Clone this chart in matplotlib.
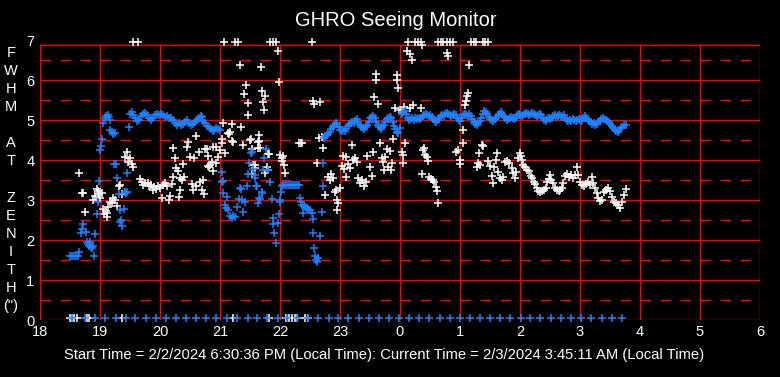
import matplotlib
matplotlib.use("Agg")
import matplotlib.pyplot as plt
import numpy as np

plt.rcParams['font.family'] = ['Liberation Sans', 'DejaVu Sans']

# ---------------- data (hours since midnight of start day; 24+ = next day) ----------------
x_ticks = [18, 19, 20, 21, 22, 23, 24, 25, 26, 27, 28, 29, 30]
x_tick_labels = ["18", "19", "20", "21", "22", "23", "0", "1", "2", "3", "4", "5", "6"]
y_ticks = [0, 1, 2, 3, 4, 5, 6, 7]

# white series: values of 7 are off-scale (top row), 0 are bottom row
white_x = [
    19.55, 19.63, 21.07, 21.25, 21.30, 21.83, 21.88, 21.93, 22.53,
    24.13, 24.25, 24.30, 24.35, 24.63, 24.68, 24.72, 24.78, 24.83, 24.88,
    25.18, 25.23, 25.27, 25.38, 25.42, 25.46,
    18.50, 18.53, 18.57, 18.62, 18.78, 18.82, 19.37, 21.22, 21.82,
    22.10, 22.15, 22.20, 22.25, 22.28, 22.42, 22.47,
    24.12, 24.17, 24.20, 24.78, 24.80, 25.15, 21.97, 21.33, 21.68, 24.37,
    18.65, 18.70, 18.72, 18.75, 18.88, 18.92, 18.95, 18.97, 18.98, 19.00,
    19.03, 19.05, 19.07, 19.10, 19.12, 19.12, 19.13, 19.17, 19.20, 19.22,
    19.25, 19.28, 19.32, 19.33, 19.37, 19.42, 19.45, 19.47, 19.50, 19.53,
    19.55, 19.67, 19.70, 19.72, 19.75, 19.80, 19.82, 19.85, 19.88, 19.90,
    19.93, 19.97, 20.00, 20.03, 20.05, 20.08, 20.12, 20.15, 20.17, 20.20,
    20.22, 20.22, 20.25, 20.27, 20.30, 20.33, 20.37, 20.40, 20.33, 20.32,
    20.38, 20.45, 20.47, 20.50, 20.53, 20.55, 20.57, 20.60, 20.60, 20.65,
    20.67, 20.70, 20.72, 20.73, 20.75, 20.78, 20.80, 20.80, 20.82, 20.83,
    20.88, 20.88, 20.87, 20.93, 20.93, 20.97, 21.00, 21.03, 21.03, 21.05,
    21.08, 21.13, 21.15, 21.17, 21.20, 21.20, 21.22, 21.35, 21.38, 21.40,
    21.43, 21.47, 21.47, 21.50, 21.52, 21.53, 21.55, 21.53, 21.58, 21.58,
    21.63, 21.63, 21.65, 21.67, 21.65, 21.70, 21.72, 21.73, 21.75, 21.75,
    21.78, 21.80, 21.82, 21.80, 21.98, 22.00, 22.03, 22.05, 22.03, 22.07,
    22.08, 22.32, 22.35, 22.37, 22.55, 22.57, 22.67, 22.62, 22.65, 22.70,
    22.72, 22.75, 22.80, 22.83, 22.85, 22.88, 22.92, 22.93, 22.95, 22.97,
    22.95, 23.00, 23.03, 23.05, 23.07, 23.10, 23.10, 23.13, 23.17, 23.20,
    23.22, 23.25, 23.28, 23.30, 23.33, 23.37, 23.40, 23.43, 23.45, 23.50,
    23.53, 23.55, 23.57, 23.60, 23.60, 23.63, 23.67, 23.70, 23.72, 23.73,
    23.75, 23.78, 23.80, 23.83, 23.85, 23.87, 23.88, 23.92, 23.95, 23.95,
    23.97, 24.00, 24.03, 24.03, 24.05, 24.05, 24.07, 24.08, 24.17, 24.22,
    24.35, 24.37, 24.38, 24.40, 24.42, 24.45, 24.47, 24.48, 24.52, 24.55,
    24.57, 24.60, 24.62, 24.63, 24.93, 24.97, 25.00, 25.00, 25.05, 25.05,
    25.08, 25.10, 25.12, 25.13, 25.28, 25.30, 25.32, 25.33, 25.37, 25.38,
    25.47, 25.50, 25.53, 25.55, 25.57, 25.60, 25.62, 25.63, 25.67, 25.70,
    25.72, 25.75, 25.78, 25.82, 25.87, 25.88, 25.92, 25.93, 25.97, 26.00,
    26.02, 26.03, 26.05, 26.08, 26.12, 26.15, 26.18, 26.20, 26.23, 26.25,
    26.28, 26.30, 26.33, 26.37, 26.40, 26.43, 26.45, 26.48, 26.50, 26.52,
    26.55, 26.58, 26.62, 26.65, 26.67, 26.70, 26.72, 26.75, 26.78, 26.82,
    26.85, 26.88, 26.92, 26.95, 26.97, 27.00, 27.03, 27.07, 27.10, 27.13,
    27.17, 27.20, 27.22, 27.25, 27.28, 27.30, 27.33, 27.37, 27.40, 27.43,
    27.47, 27.50, 27.53, 27.57, 27.60, 27.63, 27.67, 27.70, 27.73, 27.77,
]
white_y = [
    7, 7, 7, 7, 7, 7, 7, 7, 7,
    7, 7, 7, 7, 7, 7, 7, 7, 7, 7,
    7, 7, 7, 7, 7, 7,
    0, 0, 0, 0, 0, 0, 0, 0, 0,
    0, 0, 0, 0, 0, 0, 0,
    6.72, 6.65, 6.50, 6.67, 6.60, 6.37, 6.72, 6.37, 6.32, 6.87,
    3.68, 3.17, 3.17, 2.70, 3.00, 3.10, 3.27, 3.22, 3.15, 3.05,
    3.17, 2.77, 2.65, 2.72, 2.57, 2.68, 2.83, 2.95, 2.92, 3.05,
    3.00, 2.85, 3.35, 3.38, 3.15, 4.08, 4.20, 3.95, 4.05, 3.90,
    3.83, 3.52, 3.45, 3.37, 3.42, 3.43, 3.35, 3.37, 3.25, 3.32,
    3.28, 3.35, 3.30, 3.05, 3.38, 3.42, 3.35, 3.00, 3.10, 3.40,
    3.57, 4.30, 4.05, 3.80, 3.72, 3.55, 3.50, 3.58, 3.25, 3.07,
    3.90, 4.33, 4.45, 4.08, 3.40, 3.25, 4.05, 3.35, 4.60, 4.20,
    3.45, 3.25, 3.50, 3.15, 4.27, 4.27, 4.10, 3.85, 3.83, 3.88,
    3.72, 4.33, 3.95, 4.33, 3.92, 4.08, 4.25, 4.42, 4.52, 4.92,
    4.17, 4.67, 4.65, 4.70, 4.90, 4.48, 4.45, 4.82, 4.37, 5.65,
    5.87, 5.42, 5.12, 4.50, 4.52, 4.27, 3.88, 3.65, 3.80, 3.87,
    4.45, 4.30, 4.62, 4.30, 4.47, 5.73, 5.45, 5.25, 5.60, 3.67,
    3.83, 3.75, 4.15, 4.15, 5.95, 4.12, 4.05, 4.10, 3.98, 3.87,
    3.67, 4.42, 4.42, 4.42, 5.47, 5.40, 5.45, 3.92, 4.55, 4.57,
    4.30, 3.12, 3.58, 3.50, 3.65, 3.55, 3.20, 3.25, 3.00, 2.92,
    2.75, 3.30, 3.85, 4.10, 3.78, 4.07, 3.58, 3.90, 3.80, 4.37,
    4.00, 4.05, 3.95, 3.55, 3.42, 3.50, 3.35, 3.45, 4.10, 3.83,
    3.60, 4.20, 5.58, 6.00, 6.15, 5.40, 4.43, 4.05, 3.95, 3.75,
    4.08, 4.27, 3.83, 4.22, 3.75, 3.92, 4.52, 5.30, 6.00, 6.12,
    5.80, 5.25, 5.20, 4.20, 4.12, 3.92, 5.33, 4.43, 5.30, 5.37,
    5.30, 3.65, 4.25, 4.30, 4.12, 4.07, 3.97, 3.58, 3.52, 3.50,
    3.45, 3.33, 3.22, 2.93, 4.20, 4.25, 4.00, 3.90, 4.42, 4.75,
    5.37, 5.47, 5.60, 5.67, 3.83, 3.92, 4.17, 3.88, 4.37, 4.35,
    3.97, 3.85, 3.60, 3.43, 3.82, 4.00, 4.17, 3.70, 3.55, 3.50,
    3.58, 3.95, 3.98, 3.93, 3.80, 3.67, 3.55, 3.70, 4.05, 4.17,
    4.10, 4.00, 3.88, 3.82, 3.75, 3.72, 3.60, 3.55, 3.45, 3.40,
    3.30, 3.22, 3.20, 3.22, 3.25, 3.30, 3.45, 3.52, 3.62, 3.50,
    3.42, 3.30, 3.25, 3.22, 3.25, 3.30, 3.43, 3.60, 3.65, 3.58,
    3.62, 3.55, 3.63, 3.83, 3.63, 3.45, 3.38, 3.35, 3.40, 3.45,
    3.38, 3.58, 3.43, 3.30, 3.17, 3.05, 2.98, 3.00, 3.20, 3.25,
    3.30, 3.22, 3.08, 2.95, 2.92, 2.88, 2.80, 2.95, 3.12, 3.27,
]

# blue series
blue_x = [
    # bottom row
    18.53, 18.75, 18.92, 19.09, 19.26, 19.43, 19.59, 19.76, 19.93, 20.10,
    20.27, 20.43, 20.60, 20.77, 20.94, 21.12, 21.29, 21.46, 21.62, 21.79,
    21.96, 22.12, 22.29, 22.47, 22.64, 22.81, 22.97, 23.14, 23.31, 23.48,
    23.65, 23.82, 23.99, 24.15, 24.32, 24.49, 24.66, 24.83, 25.00, 25.16,
    25.33, 25.50, 25.67, 25.84, 26.01, 26.17, 26.34, 26.51, 26.68, 26.85,
    27.02, 27.19, 27.36, 27.53, 27.70,
    # early rise
    18.50, 18.53, 18.57, 18.60, 18.63, 18.65, 18.68, 18.70, 18.72, 18.77,
    18.78, 18.80, 18.82, 18.83, 18.85, 18.87, 18.88, 18.90, 18.92, 18.95,
    18.97, 18.98, 19.00, 19.02, 19.03,
    # first band
    19.05, 19.08, 19.10, 19.13, 19.15, 19.17, 19.17, 19.20, 19.22, 19.25,
    19.23, 19.27, 19.28, 19.32, 19.33, 19.33, 19.35, 19.37, 19.40, 19.42,
    19.43, 19.45, 19.45, 19.48,
    19.50, 19.53, 19.55, 19.58, 19.62, 19.65, 19.68, 19.72, 19.75, 19.78,
    19.82, 19.85, 19.88, 19.92, 19.95, 19.98, 20.02, 20.05, 20.08, 20.12,
    20.15, 20.18, 20.22, 20.25, 20.28, 20.32, 20.35, 20.38, 20.42, 20.45,
    20.48, 20.52, 20.55, 20.58, 20.62, 20.65, 20.68, 20.70, 20.72, 20.75,
    20.78, 20.82, 20.85, 20.88, 20.90, 20.93, 20.97, 21.00,
    # scatter 21-22.7
    21.03, 21.03, 21.05, 21.05, 21.08, 21.10, 21.12, 21.13, 21.17, 21.20,
    21.22, 21.25, 21.28, 21.32, 21.33, 21.35, 21.37, 21.38, 21.42, 21.45,
    21.47, 21.48, 21.52, 21.53, 21.55, 21.58, 21.58, 21.60, 21.62, 21.63,
    21.65, 21.67, 21.70, 21.70, 21.72, 21.73, 21.77, 21.80, 21.83, 21.87,
    21.88, 21.88, 21.90, 21.93, 21.97, 21.98, 22.00, 22.00, 22.02, 22.03,
    22.05, 22.08, 22.12, 22.15, 22.18, 22.22, 22.25, 22.28, 22.32,
    22.33, 22.35, 22.37, 22.38, 22.40, 22.42, 22.45, 22.47, 22.50, 22.53,
    22.55, 22.55, 22.57, 22.58, 22.60, 22.62, 22.63, 22.67, 22.70, 22.72,
    22.72,
    # second band
    22.73, 22.75, 22.78, 22.80, 22.83, 22.85, 22.88, 22.90, 22.93, 22.95,
    22.98, 23.00, 23.03, 23.05, 23.08, 23.10, 23.13, 23.15, 23.18, 23.20,
    23.23, 23.25, 23.28, 23.30, 23.33, 23.35, 23.38, 23.40, 23.43, 23.45,
    23.48, 23.50, 23.53, 23.55, 23.58, 23.60, 23.63, 23.65, 23.68, 23.70,
    23.73, 23.75, 23.78, 23.80, 23.83, 23.85, 23.88, 23.90, 23.92, 23.95,
    23.97, 24.00, 24.03, 24.05, 24.08, 24.10, 24.13, 24.15, 24.18, 24.20,
    24.23, 24.25, 24.28, 24.30, 24.33, 24.35, 24.38, 24.40, 24.43, 24.45,
    24.48, 24.50, 24.53, 24.55, 24.58, 24.60, 24.63, 24.65, 24.68, 24.70,
    24.73, 24.75, 24.78, 24.80, 24.83, 24.85, 24.88, 24.90, 24.93, 24.95,
    24.98, 25.00, 25.03, 25.05, 25.08, 25.10, 25.13, 25.15, 25.18, 25.20,
    25.23, 25.25, 25.28, 25.30, 25.33, 25.35, 25.38, 25.40, 25.43, 25.45,
    25.48, 25.50, 25.53, 25.55, 25.58, 25.60, 25.63, 25.65, 25.68, 25.70,
    25.73, 25.75, 25.78, 25.80, 25.83, 25.85, 25.88, 25.90, 25.93, 25.95,
    25.98, 26.00, 26.03, 26.05, 26.08, 26.10, 26.13, 26.15, 26.18, 26.20,
    26.23, 26.25, 26.28, 26.30, 26.33, 26.35, 26.38, 26.40, 26.43, 26.45,
    26.48, 26.50, 26.53, 26.55, 26.58, 26.60, 26.63, 26.65, 26.68, 26.70,
    26.73, 26.75, 26.78, 26.80, 26.83, 26.85, 26.88, 26.90, 26.93, 26.95,
    26.98, 27.00, 27.03, 27.05, 27.08, 27.10, 27.13, 27.15, 27.18, 27.20,
    27.23, 27.25, 27.28, 27.30, 27.33, 27.35, 27.38, 27.40, 27.43, 27.45,
    27.48, 27.50, 27.53, 27.55, 27.58, 27.60, 27.63, 27.65, 27.68, 27.70,
    27.73, 27.77,
]
blue_y = [
    0, 0, 0, 0, 0, 0, 0, 0, 0, 0,
    0, 0, 0, 0, 0, 0, 0, 0, 0, 0,
    0, 0, 0, 0, 0, 0, 0, 0, 0, 0,
    0, 0, 0, 0, 0, 0, 0, 0, 0, 0,
    0, 0, 0, 0, 0, 0, 0, 0, 0, 0,
    0, 0, 0, 0, 0,
    1.60, 1.60, 1.60, 1.60, 1.60, 1.70, 2.17, 2.27, 2.40, 2.20,
    1.95, 1.90, 1.85, 1.95, 1.82, 1.80, 1.85, 1.60, 2.15, 2.65,
    2.95, 3.47, 4.25, 4.35, 4.52,
    4.93, 5.05, 5.10, 5.12, 5.08, 5.00, 4.75, 4.70, 4.65, 4.68,
    3.90, 3.90, 3.55, 3.15, 2.75, 2.45, 2.50, 2.35, 2.77, 3.20,
    3.17, 3.67, 3.20, 4.82,
    5.15, 5.20, 5.12, 5.05, 4.97, 5.00, 5.10, 5.15, 5.18, 5.12,
    5.05, 5.00, 5.05, 5.12, 5.15, 5.12, 5.15, 5.12, 5.08, 5.10,
    5.05, 5.05, 5.00, 4.92, 4.88, 4.92, 4.88, 4.90, 4.95, 5.00,
    4.92, 4.88, 4.90, 4.95, 5.00, 5.05, 5.10, 5.08, 4.98, 4.92,
    4.85, 4.82, 4.78, 4.72, 4.75, 4.80, 4.78, 4.75,
    3.70, 3.45, 3.18, 3.47, 2.88, 2.80, 3.08, 2.75, 2.60, 2.55,
    2.60, 2.58, 2.83, 3.03, 3.30, 3.28, 3.00, 2.70, 2.95, 3.35,
    3.65, 3.93, 4.17, 4.20, 3.77, 3.55, 3.62, 3.35, 3.35, 2.92,
    3.05, 3.02, 3.17, 3.20, 3.75, 4.05, 4.27, 3.75, 3.45, 3.02,
    2.55, 2.40, 2.17, 1.93, 2.42, 2.65, 2.95, 3.00, 3.20, 3.35,
    3.38, 3.38, 3.38, 3.38, 3.38, 3.38, 3.38, 3.38, 3.38,
    3.05, 2.95, 2.88, 2.67, 2.85, 2.82, 2.80, 2.78, 2.75, 2.67,
    2.52, 2.17, 1.80, 1.60, 1.50, 1.45, 1.55, 2.10, 2.70, 3.35,
    3.92,
    4.55, 4.60, 4.62, 4.65, 4.70, 4.78, 4.82, 4.88, 4.92, 4.90,
    4.82, 4.75, 4.72, 4.75, 4.72, 4.78, 4.85, 4.90, 4.92, 4.95,
    4.92, 4.98, 5.02, 4.95, 4.87, 4.82, 4.80, 4.78, 4.82, 4.88,
    4.95, 5.05, 5.08, 5.10, 5.05, 4.95, 4.88, 4.82, 4.78, 4.82,
    4.88, 4.95, 5.02, 5.05, 5.08, 5.05, 4.95, 4.85, 4.78, 4.70,
    4.67, 4.80, 5.15, 5.20, 5.22, 5.15, 5.05, 5.00, 5.02, 5.05,
    5.00, 5.05, 5.02, 5.05, 5.02, 5.05, 5.10, 5.12, 5.15, 5.12,
    5.10, 5.12, 5.08, 5.02, 4.97, 4.95, 5.00, 5.05, 5.10, 5.12,
    5.10, 5.15, 5.18, 5.15, 5.12, 5.10, 5.12, 5.15, 5.12, 5.05,
    5.00, 4.98, 5.05, 5.12, 5.15, 5.12, 5.10, 5.15, 5.10, 5.02,
    4.95, 4.90, 4.88, 4.92, 4.98, 5.05, 5.15, 5.22, 5.20, 5.15,
    5.08, 5.03, 5.00, 4.98, 5.02, 5.05, 5.10, 5.15, 5.20, 5.15,
    5.10, 5.05, 5.00, 5.02, 5.05, 5.08, 5.05, 5.02, 5.05, 5.12,
    5.15, 5.12, 5.10, 5.12, 5.15, 5.18, 5.15, 5.12, 5.15, 5.18,
    5.15, 5.12, 5.10, 5.13, 5.15, 5.12, 5.05, 5.00, 4.98, 5.02,
    5.05, 5.02, 5.05, 5.10, 5.12, 5.08, 5.10, 5.12, 5.10, 5.08,
    5.12, 5.05, 5.00, 4.98, 5.00, 4.98, 5.02, 5.00, 4.97, 5.00,
    5.02, 5.00, 4.97, 5.05, 5.10, 5.05, 5.00, 4.98, 4.95, 4.90,
    4.92, 4.88, 4.90, 4.95, 4.98, 5.02, 5.05, 5.02, 5.00, 4.97,
    4.95, 4.90, 4.85, 4.80, 4.75, 4.72, 4.70, 4.75, 4.80, 4.83,
    4.87, 4.88,
]

title = "GHRO Seeing Monitor"
footer = ("Start Time = 2/2/2024 6:30:36 PM (Local Time): "
          "Current Time = 2/3/2024 3:45:11 AM (Local Time)")
ylabel_chars = ["F", "W", "H", "M", "", "A", "T", "", "Z", "E", "N", "I", "T", "H", "(\")"]

# ---------------- figure ----------------
W, H = 780, 377
fig = plt.figure(figsize=(W / 100, H / 100), dpi=100, facecolor="black")
ax = fig.add_axes([40 / W, (H - 320) / H, 720 / W, 280 / H])
ax.set_facecolor("black")
ax.set_xlim(18, 30)
ax.set_ylim(0, 7)
for s in ax.spines.values():
    s.set_visible(False)

RED = "#FF0000"
BLUE = "#1E82FF"
top_line = 6.875
lw = 1.0
for yv in range(0, 7):
    ax.plot([18, 30], [yv, yv], color=RED, lw=lw, zorder=1, solid_capstyle="butt")
ax.plot([18, 30], [top_line, top_line], color=RED, lw=lw, zorder=1)
for yv in np.arange(0.5, 7, 1.0):
    ax.plot([18, 30], [yv, yv], color=RED, lw=lw, zorder=1,
            linestyle=(0, (7.7 / lw, 6.7 / lw)), dash_capstyle="butt")
for xv in x_ticks:
    ax.plot([xv, xv], [0, top_line], color=RED, lw=lw, zorder=1)

def disp(v):
    v = np.asarray(v, dtype=float)
    v = np.where(v >= 7, 6.94, v)
    v = np.where(v <= 0, 0.04, v)
    return v

ax.plot(white_x, disp(white_y), linestyle="none", marker="+", ms=5.2, mew=1.1,
        color="white", zorder=3, clip_on=False)
ax.plot(blue_x, disp(blue_y), linestyle="none", marker="+", ms=5.2, mew=1.1,
        color=BLUE, zorder=4, clip_on=False)

ax.set_xticks(x_ticks)
ax.set_xticklabels(x_tick_labels)
ax.set_yticks(y_ticks)
ax.tick_params(axis="both", length=0, colors="white", labelsize=10.5)
ax.tick_params(axis="x", pad=3.5)
ax.tick_params(axis="y", pad=4)

fig.text(396 / W, 1 - 20 / H, title, color="white", fontsize=14.5,
         ha="center", va="center")
fig.text(384 / W, 1 - 355 / H, footer, color="white", fontsize=10.6,
         ha="center", va="center")
for i, ch in enumerate(ylabel_chars):
    if ch:
        fig.text(11 / W, 1 - (53 + i * 18.07) / H, ch, color="white",
                 fontsize=10.5, ha="center", va="center")

fig.savefig("out.png", dpi=100, facecolor="black")
